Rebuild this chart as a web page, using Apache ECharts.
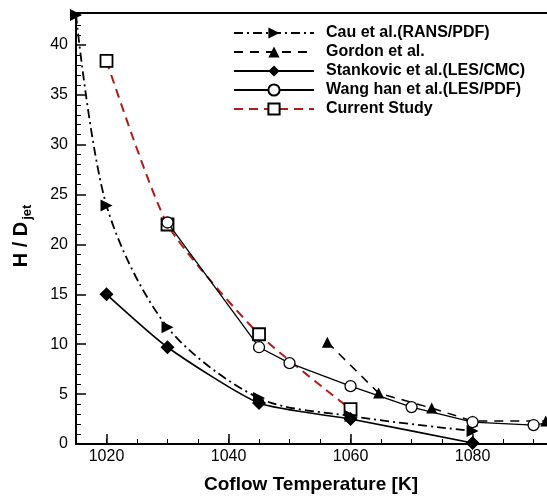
<!DOCTYPE html>
<html>
<head>
<meta charset="utf-8">
<script src="https://cdn.jsdelivr.net/npm/echarts@6/dist/echarts.min.js"></script>
<style>html,body{margin:0;padding:0;background:#fff}#c{width:547px;height:497px}</style>
</head>
<body>
<div id="c"></div>
<script>
var seriesNames = ['Cau et al.(RANS/PDF)', 'Gordon et al.', 'Stankovic et al.(LES/CMC)', 'Wang han et al.(LES/PDF)', 'Current Study'];
var cauData = [[1015, 43.0], [1020, 23.9], [1030, 11.7], [1045, 4.6], [1060, 2.8], [1080, 1.3]];
var gordonData = [[1056.2, 10.2], [1064.6, 5.1], [1073.3, 3.6], [1080, 2.3], [1092, 2.3]];
var stankovicData = [[1020, 15.0], [1030, 9.7], [1045, 4.1], [1060, 2.5], [1080, 0.1]];
var wangData = [[1030, 22.2], [1045, 9.7], [1050, 8.1], [1060, 5.8], [1070, 3.7], [1080, 2.2], [1090, 1.9], [1096, 2.5]];
var currentData = [[1020, 38.4], [1030, 22.0], [1045, 11.0], [1060, 3.5]];
var xMajorTicks = [1020, 1040, 1060, 1080];
var xTitle = 'Coflow Temperature [K]';
var yTitle = '{a|H / D}{b|jet}';

var FONT = 'Liberation Sans, Arial, sans-serif';
var chart = echarts.init(document.getElementById('c'), null, {renderer: 'canvas'});
chart.setOption({
  animation: false,
  backgroundColor: '#fff',
  grid: {left: 76, top: 13, right: 0, bottom: 53},
  legend: {
    data: seriesNames,
    orient: 'vertical', left: 228, top: 20,
    itemWidth: 80, itemHeight: 14, itemGap: 3,
    textStyle: {fontFamily: FONT, fontWeight: 'bold', fontSize: 16, lineHeight: 16, color: '#000', padding: [0, 0, 0, 7]}
  },
  xAxis: [{
    type: 'value', min: 1015, max: 1092.2, gridIndex: 0, position: 'bottom',
    axisLine: {show: true, lineStyle: {color: '#000', width: 2}},
    axisTick: {show: true, inside: true, length: 10, lineStyle: {color: '#000', width: 1.5}, customValues: xMajorTicks},
    axisLabel: {show: true, customValues: xMajorTicks, margin: 5, fontFamily: FONT, fontSize: 16, color: '#000',
      formatter: function (v) { return String(v); }},
    splitLine: {show: false}
  }, {
    type: 'value', min: 1015, max: 1092.2, interval: 5, gridIndex: 0, position: 'bottom',
    axisLine: {show: false},
    axisTick: {show: true, inside: true, length: 5, lineStyle: {color: '#000', width: 1}},
    axisLabel: {show: false},
    splitLine: {show: false}
  }, {
    type: 'value', min: 1015, max: 1092.2, gridIndex: 0, position: 'top',
    axisLine: {show: true, lineStyle: {color: '#000', width: 2}},
    axisTick: {show: false}, axisLabel: {show: false}, splitLine: {show: false}
  }],
  yAxis: {
    type: 'value', min: 0, max: 43.2, interval: 5,
    axisLine: {show: true, lineStyle: {color: '#000', width: 2}},
    axisTick: {show: true, inside: true, length: 10, lineStyle: {color: '#000', width: 1.5}},
    minorTick: {show: true, splitNumber: 5, length: 5, lineStyle: {color: '#000', width: 1}},
    axisLabel: {margin: 8, fontFamily: FONT, fontSize: 16, color: '#000', showMaxLabel: false},
    splitLine: {show: false}
  },
  graphic: [{
    type: 'text', x: 311, y: 485,
    style: {text: xTitle, fontFamily: FONT, fontWeight: 'bold', fontSize: 19, fill: '#000', align: 'center', verticalAlign: 'middle'}
  }, {
    type: 'text', x: 21, y: 236, rotation: Math.PI / 2,
    style: {
      text: yTitle, align: 'center', verticalAlign: 'middle', fill: '#000',
      rich: {
        a: {fontFamily: FONT, fontWeight: 'bold', fontSize: 20, fill: '#000', lineHeight: 26},
        b: {fontFamily: FONT, fontWeight: 'bold', fontSize: 13, fill: '#000', lineHeight: 26, verticalAlign: 'bottom', padding: [0, 0, 0, 2]}
      }
    }
  }],
  series: [{
    name: seriesNames[4], type: 'line', data: currentData, smooth: 0.2,
    symbol: 'rect', symbolSize: 12,
    lineStyle: {color: '#b01c1c', width: 2, type: [9, 6]},
    itemStyle: {color: '#fff', borderColor: '#000', borderWidth: 1.8}, z: 2
  }, {
    name: seriesNames[0], type: 'line', data: cauData, smooth: 0.3,
    symbol: 'triangle', symbolSize: 12, symbolRotate: -90,
    lineStyle: {color: '#000', width: 1.8, type: [9, 4, 2, 4]},
    itemStyle: {color: '#000'}, z: 3
  }, {
    name: seriesNames[1], type: 'line', data: gordonData,
    symbol: 'triangle', symbolSize: 11,
    lineStyle: {color: '#000', width: 1.5, type: [9, 7]},
    itemStyle: {color: '#000'}, z: 3
  }, {
    name: seriesNames[2], type: 'line', data: stankovicData, smooth: 0.2,
    symbol: 'diamond', symbolSize: 14,
    lineStyle: {color: '#000', width: 1.6},
    itemStyle: {color: '#000'}, z: 3
  }, {
    name: seriesNames[3], type: 'line', data: wangData,
    symbol: 'circle', symbolSize: 11,
    lineStyle: {color: '#000', width: 1.3},
    itemStyle: {color: '#fff', borderColor: '#000', borderWidth: 1.3}, z: 4
  }]
});
</script>
</body>
</html>
